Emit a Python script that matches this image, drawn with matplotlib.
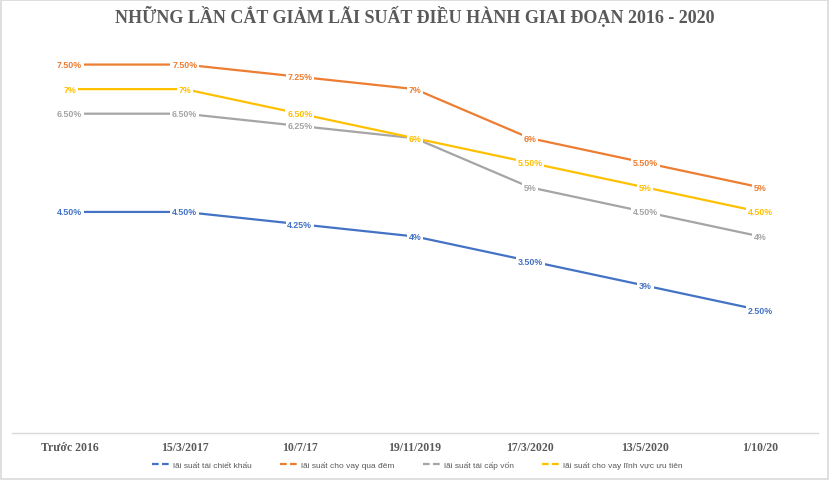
import matplotlib
matplotlib.use("Agg")
import matplotlib.pyplot as plt
from matplotlib.patches import Rectangle

categories = ["Trước 2016", "15/3/2017", "10/7/17", "19/11/2019", "17/3/2020", "13/5/2020", "1/10/20"]
series_names = ["lãi suất tái chiết khấu", "lãi suất cho vay qua đêm",
                "lãi suất tái cấp vốn", "lãi suất cho vay lĩnh vực ưu tiên"]
tai_chiet_khau = [4.5, 4.5, 4.25, 4.0, 3.5, 3.0, 2.5]
cho_vay_qua_dem = [7.5, 7.5, 7.25, 7.0, 6.0, 5.5, 5.0]
tai_cap_von = [6.5, 6.5, 6.25, 6.0, 5.0, 4.5, 4.0]
uu_tien = [7.0, 7.0, 6.5, 6.0, 5.5, 5.0, 4.5]
colors = ["#4472C4", "#ED7D31", "#A5A5A5", "#FFC000"]
title = "NHỮNG LẦN CẮT GIẢM LÃI SUẤT ĐIỀU HÀNH GIAI ĐOẠN 2016 - 2020"

def fmt(v):
    return f"{int(v)}%" if float(v).is_integer() else f"{v:.2f}%"

fig = plt.figure(figsize=(8.3, 4.81), dpi=100)
fig.patches.append(Rectangle((0.001, 0.002), 0.997, 0.996, transform=fig.transFigure,
                             fill=False, edgecolor="#D9D9D9", linewidth=1.2))
ax = fig.add_axes([12/830, 47/481, 806/830, 393/481])
x = list(range(len(categories)))
all_series = [tai_chiet_khau, cho_vay_qua_dem, tai_cap_von, uu_tien]
for i, (vals, c, name) in enumerate(zip(all_series, colors, series_names)):
    ax.plot(x, vals, color=c, linewidth=1.6, label=name, zorder=2 + i)
for i, (vals, c) in enumerate(zip(all_series, colors)):
    for xi, v in zip(x, vals):
        ax.text(xi, v, fmt(v), color=c, fontsize=6.4, fontweight="bold",
                ha="center", va="center", family="Liberation Sans",
                bbox=dict(boxstyle="square,pad=0.2", facecolor="white", edgecolor="none"),
                zorder=10 + i)
ax.set_xlim(-0.5, len(categories) - 0.5)
ax.set_ylim(0, 8)
ax.set_yticks([])
ax.set_xticks(x)
ax.set_xticklabels(categories, family="Liberation Serif", fontweight="bold",
                   fontsize=8.5, color="#595959")
ax.tick_params(axis="x", length=0, pad=6)
for s in ["top", "right", "left"]:
    ax.spines[s].set_visible(False)
ax.spines["bottom"].set_color("#D9D9D9")
ax.spines["bottom"].set_linewidth(1)

fig.text(0.5, 0.965, title, ha="center", va="center", family="Liberation Serif",
         fontweight="bold", fontsize=13, color="#595959")

handles = [plt.Line2D([], [], color=c, linewidth=1.6, linestyle=(0, (3, 1.5))) for c in colors]
leg = fig.legend(handles, series_names, loc="center", bbox_to_anchor=(0.503, 0.031),
                 ncol=4, frameon=False, handlelength=2.2,
                 columnspacing=3.4, handletextpad=0.3,
                 prop={"family": "Liberation Sans", "size": 6})
for t in leg.get_texts():
    t.set_color("#595959")

fig.savefig("out.png", dpi=100)
